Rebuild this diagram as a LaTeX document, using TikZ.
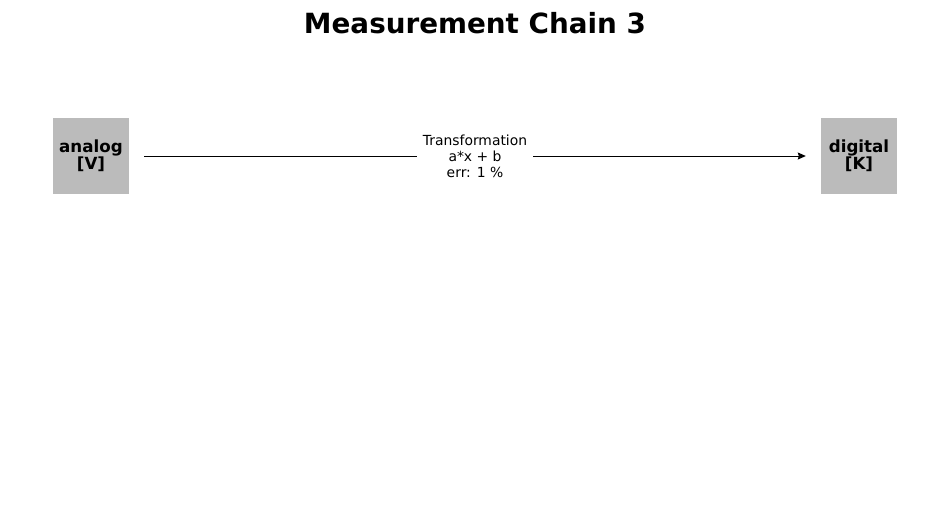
\documentclass[tikz,border=0pt]{standalone}
\usepackage{fontspec}
\setmainfont{DejaVu Sans}
\usetikzlibrary{arrows.meta}

\definecolor{unitgray}{HTML}{BBBBBB}

\begin{document}
\begin{tikzpicture}[x=1pt, y=-1pt,  % one unit per pixel, y downwards
    unit/.style={fill=unitgray, minimum size=76, inner sep=0,
        align=center, font=\bfseries\fontsize{16.7}{17}\selectfont},
    conv/.style={fill=white, inner xsep=6, inner ysep=3, align=center,
        font=\fontsize{13.9}{16}\selectfont}]
    \useasboundingbox (0,0) rectangle (950,512);

    % Title
    \node[font=\bfseries\fontsize{27.8}{30}\selectfont] (title) at (475,23) {Measurement Chain 3};

    % Units at both ends of the chain
    \node[unit] (analog) at (91,156) {analog\\{[V]}};
    \node[unit] (digital) at (859,156) {digital\\{[K]}};

    % Transformation arrow with its label
    \draw[line width=1, shorten <=15, shorten >=15, -{Stealth[length=8, width=7, inset=1]}]
        (analog) -- node[conv] (trans) {Transformation\\a*x + b\\err: 1 \%} (digital);
\end{tikzpicture}
\end{document}
